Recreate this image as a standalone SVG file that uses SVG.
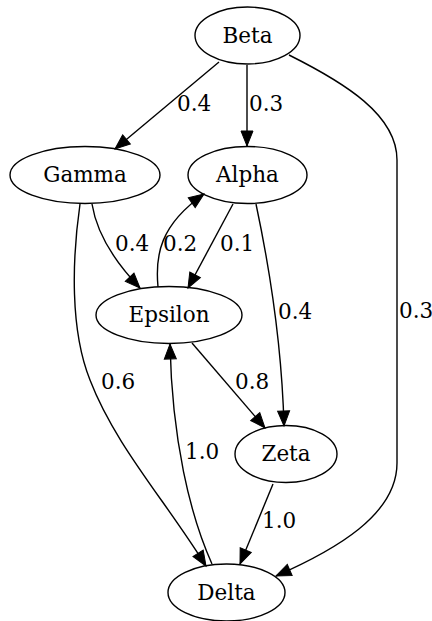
<svg xmlns="http://www.w3.org/2000/svg" width="432" height="621" viewBox="0 0 432 621">
<defs>
<style>
.node ellipse{fill:none;stroke:#000;stroke-width:1.4}
text{font-family:"DejaVu Serif",serif;font-size:21.5px;fill:#000}
.node text{text-anchor:middle}
.edges path{fill:none;stroke:#000;stroke-width:1.4}
</style>
<marker id="ah" markerUnits="userSpaceOnUse" markerWidth="16" markerHeight="13" refX="15" refY="6" orient="auto" overflow="visible">
<path d="M0,0 L15,6 L0,12 z" fill="#000" stroke="#000" stroke-width="1"/>
</marker>
</defs>
<rect width="432" height="621" fill="#fff"/>
<g class="edges">
<path d="M219,62 L115,149" marker-end="url(#ah)"/>
<path d="M247,65 L247,146" marker-end="url(#ah)"/>
<path d="M289,55 C345,83 397,115 397,160 L397,463 C397,515 335,550 276,576" marker-end="url(#ah)"/>
<path d="M92,204 C97,235 115,262 140,288" marker-end="url(#ah)"/>
<path d="M158,287 C155,255 160,225 204,194" marker-end="url(#ah)"/>
<path d="M233,204 L188,288" marker-end="url(#ah)"/>
<path d="M256,204 C270,270 282,350 284,426" marker-end="url(#ah)"/>
<path d="M80,204 C72,260 70,330 90,380 C115,445 165,500 206,566" marker-end="url(#ah)"/>
<path d="M212,564 C190,515 172,440 170,344" marker-end="url(#ah)"/>
<path d="M192,343 L265,428" marker-end="url(#ah)"/>
<path d="M273,484 L240,564" marker-end="url(#ah)"/>
<text x="177" y="111">0.4</text>
<text x="249" y="111">0.3</text>
<text x="399" y="318">0.3</text>
<text x="115" y="251">0.4</text>
<text x="163" y="251">0.2</text>
<text x="220" y="251">0.1</text>
<text x="278" y="319">0.4</text>
<text x="101" y="389">0.6</text>
<text x="235" y="389">0.8</text>
<text x="185" y="459">1.0</text>
<text x="262" y="528">1.0</text>
</g>
<g id="Beta" class="node"><ellipse cx="247.5" cy="35.5" rx="52.5" ry="28.5"/><text x="247.5" y="42.5">Beta</text></g>
<g id="Gamma" class="node"><ellipse cx="85" cy="175" rx="75" ry="28.5"/><text x="85" y="182">Gamma</text></g>
<g id="Alpha" class="node"><ellipse cx="247.5" cy="175" rx="59.5" ry="28.5"/><text x="247.5" y="182">Alpha</text></g>
<g id="Epsilon" class="node"><ellipse cx="169" cy="315" rx="73" ry="28.5"/><text x="169" y="322">Epsilon</text></g>
<g id="Zeta" class="node"><ellipse cx="286" cy="454" rx="51" ry="28.5"/><text x="286" y="461">Zeta</text></g>
<g id="Delta" class="node"><ellipse cx="226.5" cy="592.5" rx="58.5" ry="28.5"/><text x="226.5" y="599.5">Delta</text></g>
</svg>
